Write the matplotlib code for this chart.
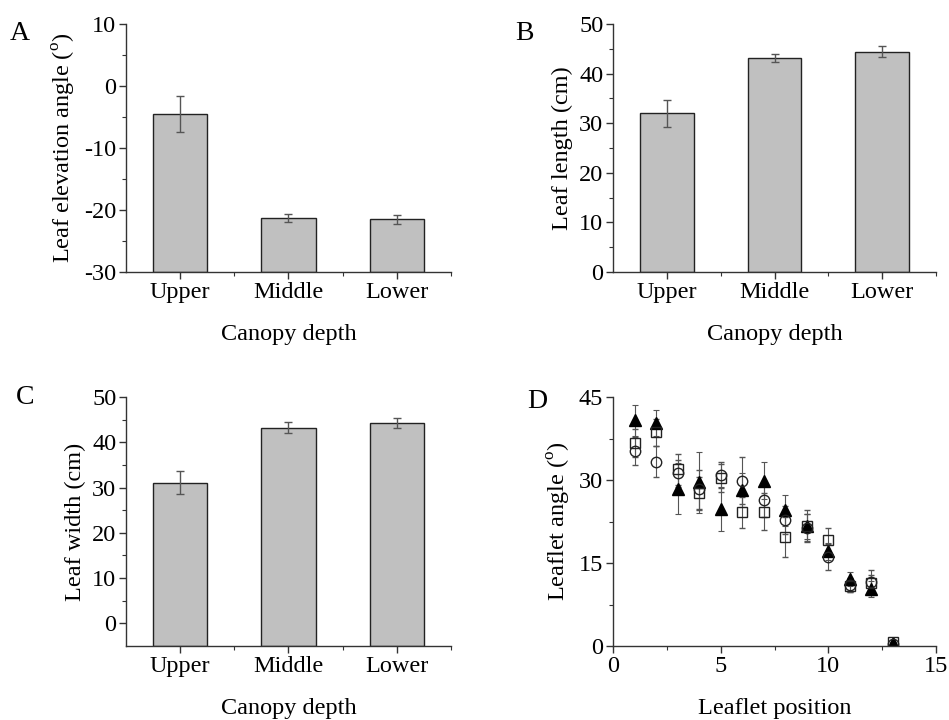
import matplotlib
matplotlib.use("Agg")
import matplotlib.pyplot as plt
from matplotlib.ticker import MultipleLocator, FixedLocator
import numpy as np

plt.rcParams['font.family'] = ['Liberation Serif', 'DejaVu Serif']
plt.rcParams['mathtext.fontset'] = 'custom'
plt.rcParams['mathtext.rm'] = 'Liberation Serif'
plt.rcParams['axes.unicode_minus'] = False

# ---- data ----
categories = ["Upper", "Middle", "Lower"]
elev_angle = [-4.5, -21.3, -21.5]
elev_err = [2.85, 0.6, 0.7]
leaf_length = [32.0, 43.2, 44.4]
leaf_length_err = [2.7, 0.8, 1.1]
leaf_width = [31.1, 43.2, 44.2]
leaf_width_err = [2.5, 1.2, 1.1]

leaflet_pos = [1, 2, 3, 4, 5, 6, 7, 8, 9, 10, 11, 12, 13]
tri_vals = [40.8, 40.3, 28.4, 29.6, 24.8, 28.2, 29.9, 24.5, 21.6, 17.1, 12.1, 10.3, 0.5]
tri_err = [2.8, 2.4, 4.6, 5.5, 4.0, 3.0, 3.3, 2.8, 2.2, 1.5, 1.2, 1.5, 0.3]
sq_vals = [36.7, 38.6, 31.9, 27.6, 30.4, 24.2, 24.3, 19.7, 21.7, 19.1, 10.8, 11.3, 0.8]
sq_err = [2.5, 2.5, 2.8, 3.0, 2.5, 2.8, 3.3, 3.7, 2.8, 2.3, 1.0, 1.5, 0.3]
circ_vals = [35.3, 33.3, 31.2, 28.3, 30.9, 29.9, 26.3, 22.8, 21.3, 16.1, 11.0, 11.5, 0.4]
circ_err = [2.5, 2.8, 2.5, 3.5, 2.3, 4.2, 3.0, 2.5, 2.5, 2.4, 1.2, 2.2, 0.3]

W, H = 949, 720
fig = plt.figure(figsize=(W / 100, H / 100), dpi=100)

def add_ax(l, r, t, b):
    return fig.add_axes([l / W, 1 - b / H, (r - l) / W, (b - t) / H])

axA = add_ax(126, 451, 24, 272)
axB = add_ax(613, 936, 24, 272)
axC = add_ax(126, 451, 397, 646)
axD = add_ax(613, 936, 397, 646)

FS = 17.5
spine_col = '#333333'

def style(ax):
    for s in ['top', 'right']:
        ax.spines[s].set_visible(False)
    for s in ['left', 'bottom']:
        ax.spines[s].set_color(spine_col)
        ax.spines[s].set_linewidth(1.0)
    ax.tick_params(which='major', direction='out', length=5, width=1,
                   colors=spine_col, labelsize=FS, labelcolor='black', pad=2)
    ax.tick_params(which='minor', direction='out', length=3, width=0.8,
                   colors=spine_col)

xpos = np.arange(1, len(categories) + 1)

def barpanel(ax, vals, errs, ylim, ymajor, ylabel, bottom):
    ax.bar(xpos, np.array(vals) - bottom, bottom=bottom, width=0.5,
           color='#c0c0c0', edgecolor='#222222', linewidth=1.0)
    ax.errorbar(xpos, vals, yerr=errs, fmt='none', ecolor='#555555',
                elinewidth=1.0, capsize=3, capthick=1.0)
    ax.set_xlim(0.5, 3.5)
    ax.set_ylim(*ylim)
    ax.set_xticks(xpos)
    ax.set_xticklabels(categories)
    ax.xaxis.set_minor_locator(FixedLocator([1.5, 2.5, 3.5]))
    ax.yaxis.set_major_locator(MultipleLocator(ymajor))
    ax.yaxis.set_minor_locator(MultipleLocator(ymajor / 2))
    ax.set_xlabel("Canopy depth", fontsize=FS, labelpad=15)
    ax.set_ylabel(ylabel, fontsize=FS, labelpad=4)
    style(ax)

barpanel(axA, elev_angle, elev_err, (-30, 10), 10,
         r"Leaf elevation angle ($^{\rm o}$)", -30)
barpanel(axB, leaf_length, leaf_length_err, (0, 50), 10,
         "Leaf length (cm)", 0)
barpanel(axC, leaf_width, leaf_width_err, (-5, 50), 10,
         "Leaf width (cm)", -5)
axC.set_yticks([0, 10, 20, 30, 40, 50])
axC.yaxis.set_minor_locator(FixedLocator([5, 15, 25, 35, 45]))

# Panel D
ek = dict(ecolor='#555555', elinewidth=0.8, capsize=2.5, capthick=0.8, linestyle='none')
axD.errorbar(leaflet_pos, tri_vals, yerr=tri_err, fmt='^', color='black',
             markersize=8, markerfacecolor='black', markeredgecolor='black', **ek)
axD.errorbar(leaflet_pos, sq_vals, yerr=sq_err, fmt='s', markersize=7,
             markerfacecolor='none', markeredgecolor='#222222', markeredgewidth=1.0, **ek)
axD.errorbar(leaflet_pos, circ_vals, yerr=circ_err, fmt='o', markersize=7.5,
             markerfacecolor='none', markeredgecolor='#222222', markeredgewidth=1.0, **ek)
axD.set_xlim(0, 15)
axD.set_ylim(0, 45)
axD.xaxis.set_major_locator(MultipleLocator(5))
axD.xaxis.set_minor_locator(MultipleLocator(2.5))
axD.yaxis.set_major_locator(MultipleLocator(15))
axD.yaxis.set_minor_locator(MultipleLocator(7.5))
axD.set_xlabel("Leaflet position", fontsize=FS, labelpad=15)
axD.set_ylabel(r"Leaflet angle ($^{\rm o}$)", fontsize=FS, labelpad=4)
style(axD)

# Panel letters
for lab, x, y in [("A", 10, 33), ("B", 515, 33), ("C", 16, 398), ("D", 527, 402)]:
    fig.text(x / W, 1 - y / H, lab, fontsize=20, va='center', ha='left')

fig.savefig("out.png", dpi=100)
